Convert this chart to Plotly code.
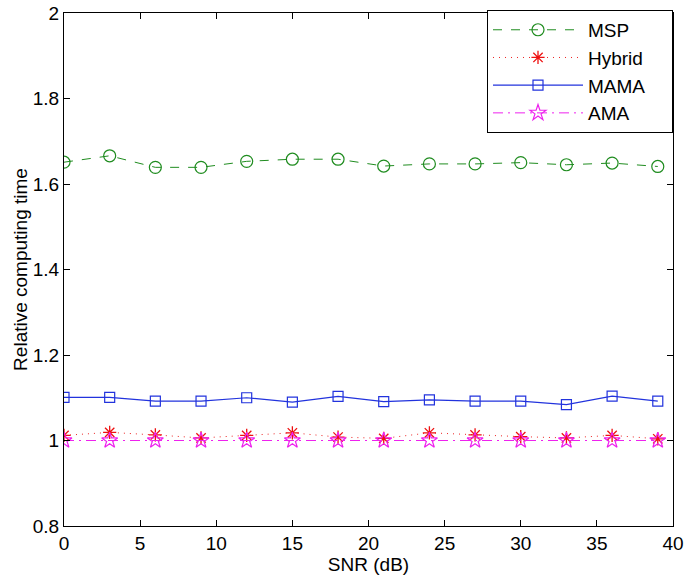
import plotly.graph_objects as go

snr = [0, 3, 6, 9, 12, 15, 18, 21, 24, 27, 30, 33, 36, 39]
msp = [1.651, 1.666, 1.639, 1.639, 1.653, 1.658, 1.658, 1.642, 1.647, 1.647, 1.650, 1.645, 1.649, 1.641]
hybrid = [1.012, 1.019, 1.013, 1.006, 1.012, 1.018, 1.008, 1.005, 1.018, 1.013, 1.009, 1.006, 1.012, 1.004]
mama = [1.101, 1.101, 1.092, 1.092, 1.100, 1.090, 1.103, 1.091, 1.095, 1.092, 1.092, 1.084, 1.104, 1.092]
ama = [1.0] * 14

series_names = ["MSP", "Hybrid", "MAMA", "AMA"]
x_ticks = [0, 5, 10, 15, 20, 25, 30, 35, 40]
y_ticks = [0.8, 1.0, 1.2, 1.4, 1.6, 1.8, 2.0]
y_tick_text = ["0.8", "1", "1.2", "1.4", "1.6", "1.8", "2"]

FONT = "Liberation Sans, Arial, Helvetica"
PAD = "\u00a0" * 4

fig = go.Figure()
fig.add_trace(go.Scatter(x=snr, y=msp, name=series_names[0] + PAD, mode="lines+markers",
                         line=dict(color="#1f8c1f", width=1, dash="9px,9px"),
                         marker=dict(symbol="circle-open", size=12, color="#1f8c1f", line=dict(width=1.2))))
fig.add_trace(go.Scatter(x=snr, y=hybrid, name=series_names[1] + PAD, mode="lines+markers",
                         line=dict(color="#ee2222", width=1, dash="1px,5px"),
                         marker=dict(symbol="asterisk-open", size=11, color="#ee1111", line=dict(width=1.3, color="#ee1111"))))
fig.add_trace(go.Scatter(x=snr, y=mama, name=series_names[2] + PAD, mode="lines+markers",
                         line=dict(color="#2233dd", width=1.2),
                         marker=dict(symbol="square-open", size=10, color="#2233dd", line=dict(width=1.2))))
fig.add_trace(go.Scatter(x=snr, y=ama, name=series_names[3] + PAD, mode="lines+markers",
                         line=dict(color="#ee22ee", width=1, dash="10px,5px,2px,5px"),
                         marker=dict(symbol="star-open", size=12, color="#ee22ee", line=dict(width=1.2))))

axis_common = dict(showgrid=False, zeroline=False, showline=True, linecolor="black", linewidth=1,
                   mirror="ticks", ticks="inside", ticklen=6, tickcolor="black", automargin=False,
                   ticklabeloverflow="allow",
                   tickfont=dict(family=FONT, size=19, color="black"))

fig.update_xaxes(range=[0, 40], tickvals=x_ticks, **axis_common,
                 title=dict(text="SNR (dB)", font=dict(family=FONT, size=19, color="black"), standoff=3))
fig.update_yaxes(range=[0.8, 2.0], tickvals=y_ticks, ticktext=y_tick_text, **axis_common,
                 title=dict(text="Relative computing time", font=dict(family=FONT, size=19, color="black"), standoff=0))

fig.update_layout(
    width=685, height=578,
    margin=dict(l=64, r=12, t=10, b=52),
    plot_bgcolor="white", paper_bgcolor="white",
    showlegend=True,
    legend=dict(x=1, y=1.006, xanchor="right", yanchor="top", bgcolor="white",
                bordercolor="black", borderwidth=1,
                font=dict(family=FONT, size=19, color="black"),
                itemwidth=90, tracegroupgap=0),
)

fig.write_html("out.html", config={"displayModeBar": False},
               post_script="document.body.style.margin='0';document.body.style.overflow='hidden';")
